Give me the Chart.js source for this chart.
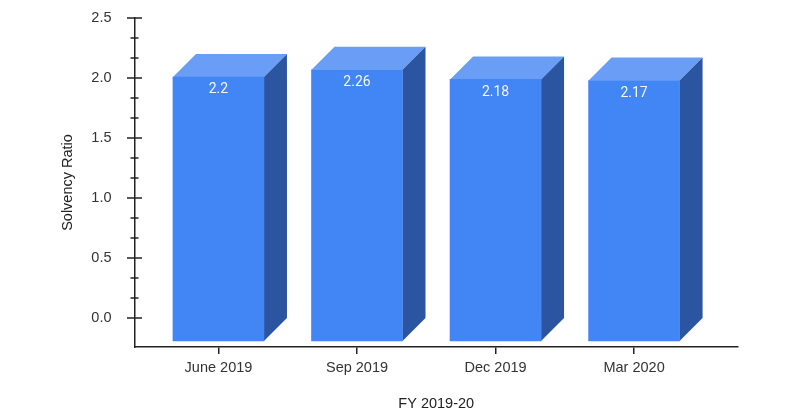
<!DOCTYPE html>
<html>
<head>
<meta charset="utf-8">
<script src="https://cdn.jsdelivr.net/npm/chart.js@4"></script>
<style>
  html, body { margin: 0; padding: 0; background: #fff; }
  #wrap { width: 800px; height: 420px; }
</style>
</head>
<body>
<div id="wrap"><canvas id="chart"></canvas></div>
<script>
"use strict";

// data
const quarters = ["June 2019", "Sep 2019", "Dec 2019", "Mar 2020"];
const solvency = [2.2, 2.26, 2.18, 2.17];
const yTicks = [0, 0.5, 1.0, 1.5, 2.0, 2.5];

const DEPTH = 23;            // 3d offset in px
const FRONT = "#4285f4";
const TOP = "#6a9ef6";
const SIDE = "#2b55a1";
const AXIS = "#222";
const FONT = "'Liberation Sans', Arial, sans-serif";

// fake 3d: top + side faces from the bar elements, front face is the bar shifted down
const bar3d = {
    id: "bar3d",
    beforeDatasetsDraw(chart) {
        const ctx = chart.ctx;
        const meta = chart.getDatasetMeta(0);
        meta.data.forEach(el => {
            const p = el.getProps(["x", "y", "base", "width"], true);
            const L = p.x - p.width / 2, R = p.x + p.width / 2;
            const T = p.y, B = p.base, d = DEPTH;
            ctx.fillStyle = TOP;
            ctx.beginPath();
            ctx.moveTo(L, T + d); ctx.lineTo(L + d, T); ctx.lineTo(R + d, T); ctx.lineTo(R, T + d);
            ctx.closePath(); ctx.fill();
            ctx.fillStyle = SIDE;
            ctx.beginPath();
            ctx.moveTo(R, T + d); ctx.lineTo(R + d, T); ctx.lineTo(R + d, B); ctx.lineTo(R, B + d);
            ctx.closePath(); ctx.fill();
        });
        ctx.save();
        ctx.translate(0, DEPTH);
    },
    afterDatasetsDraw(chart) {
        const ctx = chart.ctx;
        ctx.restore();
        // value labels on the front face
        const meta = chart.getDatasetMeta(0);
        ctx.save();
        ctx.fillStyle = "#f4f7ff";
        ctx.font = "14px Roboto, 'Liberation Sans', sans-serif";
        ctx.textAlign = "center";
        ctx.textBaseline = "middle";
        meta.data.forEach((el, i) => {
            ctx.fillText(String(solvency[i]), el.x, el.y + DEPTH + 13);
        });
        ctx.restore();
    },
    afterDraw(chart) {
        // y axis tick marks crossing the axis line, minor every 1/6
        const ctx = chart.ctx, ys = chart.scales.y;
        const x0 = chart.chartArea.left;
        ctx.save();
        ctx.strokeStyle = AXIS;
        ctx.lineWidth = 1.5;
        for (let i = 0; i < yTicks.length; i++) {
            const py = ys.getPixelForValue(yTicks[i]);
            ctx.beginPath(); ctx.moveTo(x0 - 7.5, py); ctx.lineTo(x0 + 7.5, py); ctx.stroke();
            if (i < yTicks.length - 1) {
                for (let k = 1; k < 3; k++) {
                    const v = yTicks[i] + (yTicks[i + 1] - yTicks[i]) * k / 3;
                    const pm = ys.getPixelForValue(v);
                    ctx.beginPath(); ctx.moveTo(x0 - 4, pm); ctx.lineTo(x0 + 4, pm); ctx.stroke();
                }
            }
        }
        ctx.restore();
    }
};

new Chart(document.getElementById("chart"), {
    type: "bar",
    data: {
        datasets: [{
            data: solvency.map((v, i) => ({ x: i, y: v })),
            backgroundColor: FRONT,
            borderWidth: 0,
            barThickness: 91
        }]
    },
    plugins: [bar3d],
    options: {
        responsive: true,
        maintainAspectRatio: false,
        animation: false,
        events: [],
        layout: { padding: { left: 0, right: 62, top: 18, bottom: 0 } },
        plugins: {
            legend: { display: false },
            tooltip: { enabled: false }
        },
        scales: {
            x: {
                type: "linear",
                bounds: "data",
                offset: false,
                min: -0.606,
                max: 3.75,
                afterBuildTicks: s => { s.ticks = quarters.map((q, i) => ({ value: i })); },
                afterFit: s => { s.height = 73; },
                border: { display: true, color: AXIS, width: 1.5 },
                grid: { offset: false, drawOnChartArea: false, drawTicks: true, tickLength: 7, color: AXIS, lineWidth: 1.5 },
                ticks: {
                    padding: 5,
                    color: "#333",
                    font: { family: FONT, size: 14.5 },
                    callback: v => quarters[v]
                },
                title: {
                    display: true,
                    text: "FY 2019-20",
                    color: "#222",
                    font: { family: FONT, size: 14.5 },
                    padding: { top: 0, bottom: 7 }
                }
            },
            y: {
                type: "linear",
                bounds: "data",
                min: -0.2417,
                max: 2.5,
                afterBuildTicks: s => { s.ticks = yTicks.map(v => ({ value: v })); },
                afterFit: s => { s.width = 134.5; s.paddingTop = 0; s.paddingBottom = 0; },
                border: { display: true, color: AXIS, width: 1.5 },
                grid: { display: false },
                ticks: {
                    padding: 15,
                    color: "#333",
                    font: { family: FONT, size: 14.5 },
                    callback: v => v.toFixed(1)
                },
                title: {
                    display: true,
                    text: "Solvency Ratio",
                    color: "#222",
                    font: { family: FONT, size: 14.5 },
                    padding: { top: 59, bottom: 0 }
                }
            }
        }
    }
});
</script>
</body>
</html>
